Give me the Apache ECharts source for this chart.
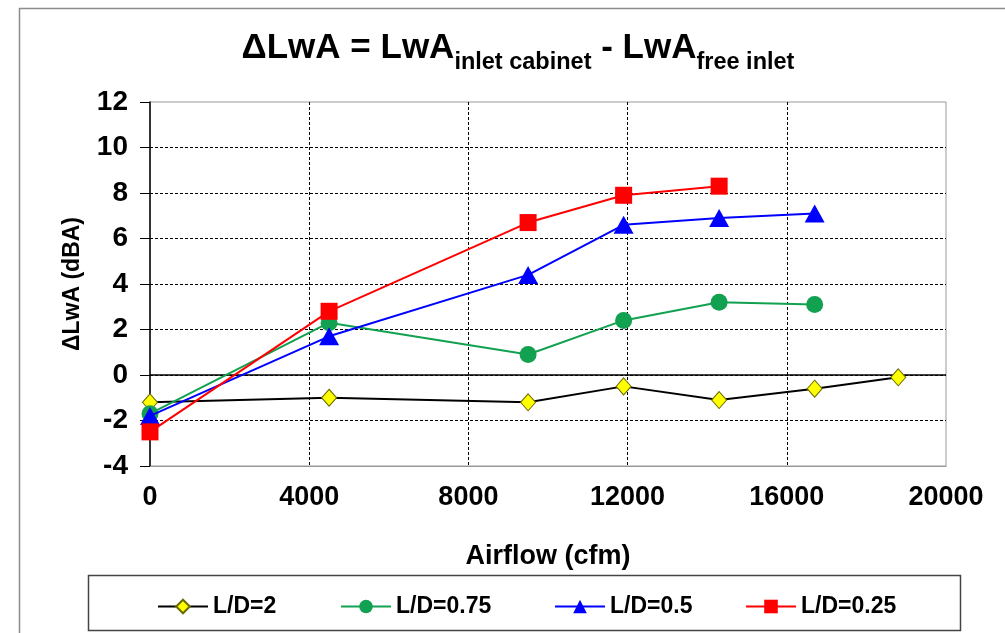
<!DOCTYPE html>
<html><head><meta charset="utf-8">
<script src="https://cdn.jsdelivr.net/npm/echarts@6/dist/echarts.min.js"></script>
<style>html,body{margin:0;padding:0;background:#fff}#c{width:1005px;height:633px}</style>
</head><body><div id="c"></div>
<script>
// Data
const xTicks = [0, 4000, 8000, 12000, 16000, 20000];
const yTicks = [-4, -2, 0, 2, 4, 6, 8, 10, 12];
const seriesNames = ['L/D=2', 'L/D=0.75', 'L/D=0.5', 'L/D=0.25'];
const xLD2 = [0, 4500, 9500, 11900, 14300, 16700, 18800];
const yLD2 = [-1.2, -1.0, -1.2, -0.5, -1.1, -0.6, -0.1];
const xLD075 = [0, 4500, 9500, 11900, 14300, 16700];
const yLD075 = [-1.7, 2.3, 0.9, 2.4, 3.2, 3.1];
const xLD05 = [0, 4500, 9500, 11900, 14300, 16700];
const yLD05 = [-1.8, 1.7, 4.4, 6.6, 6.9, 7.1];
const xLD025 = [0, 4500, 9500, 11900, 14300];
const yLD025 = [-2.5, 2.8, 6.7, 7.9, 8.3];

const FF = "'Liberation Sans', Arial, sans-serif";
const pairs = (xs, ys) => xs.map((x, i) => [x, ys[i]]);

const chart = echarts.init(document.getElementById('c'), null, {renderer: 'canvas'});

const styles = [
  {color: '#000000', symbol: 'diamond', size: [15, 17], fill: '#ffff00', border: '#6b6b00', bw: 1},
  {color: '#12a150', symbol: 'circle', size: 17, fill: '#12a150', border: '#12a150', bw: 0},
  {color: '#0000ff', symbol: 'triangle', size: [20, 18], fill: '#0000ff', border: '#0000ff', bw: 0},
  {color: '#ff0000', symbol: 'rect', size: 17, fill: '#ff0000', border: '#ff0000', bw: 0}
];
const datasets = [pairs(xLD2, yLD2), pairs(xLD075, yLD075), pairs(xLD05, yLD05), pairs(xLD025, yLD025)];

const series = datasets.map((d, i) => {
  const s = styles[i];
  const o = {
    name: seriesNames[i],
    type: 'line',
    data: d,
    symbol: s.symbol,
    symbolSize: s.size,
    showAllSymbol: true,
    lineStyle: {color: s.color, width: 2},
    itemStyle: {color: s.fill, borderColor: s.border, borderWidth: s.bw},
    emphasis: {disabled: true},
    z: 3 + i
  };
  if (i === 0) {
    o.markLine = {
      silent: true,
      symbol: 'none',
      label: {show: false},
      lineStyle: {color: '#000', type: 'solid', width: 1.5},
      data: [{yAxis: 0}],
      z: 2
    };
  }
  return o;
});

const legendX = [152, 335, 549, 740];
const legends = seriesNames.map((n, i) => ({
  data: [n],
  left: legendX[i],
  top: 590,
  itemWidth: 50,
  itemHeight: 17,
  itemGap: 5,
  selectedMode: false,
  textStyle: {fontFamily: FF, fontWeight: 'bold', fontSize: 23, color: '#000'}
}));

chart.setOption({
  animation: false,
  backgroundColor: '#fff',
  title: {
    text: '{m|ΔLwA = LwA}{s|inlet cabinet}{m| - LwA}{s|free inlet}',
    left: 518,
    top: 31,
    padding: 0,
    textAlign: 'center',
    textStyle: {
      rich: {
        m: {fontFamily: FF, fontWeight: 'bold', fontSize: 35, lineHeight: 40, verticalAlign: 'top', color: '#000'},
        s: {fontFamily: FF, fontWeight: 'bold', fontSize: 23.5, lineHeight: 23, padding: [20, 0, 0, 0], verticalAlign: 'top', color: '#000'}
      }
    }
  },
  legend: legends,
  grid: {left: 150, right: 59, top: 102, bottom: 167, show: true, borderColor: '#999', borderWidth: 1},
  xAxis: {
    type: 'value',
    min: xTicks[0], max: xTicks[xTicks.length - 1], interval: 4000,
    name: 'Airflow (cfm)',
    nameLocation: 'middle',
    nameGap: 77,
    nameTextStyle: {fontFamily: FF, fontWeight: 'bold', fontSize: 27, color: '#000'},
    axisLine: {show: true, onZero: false, lineStyle: {color: '#999', width: 1}},
    axisTick: {show: false},
    axisLabel: {fontFamily: FF, fontWeight: 'bold', fontSize: 27, color: '#000', margin: 18, formatter: v => String(v)},
    splitLine: {show: true, showMinLine: false, showMaxLine: false, lineStyle: {color: '#000', type: [3, 2], width: 1}}
  },
  yAxis: {
    type: 'value',
    min: yTicks[0], max: yTicks[yTicks.length - 1], interval: 2,
    name: 'ΔLwA (dBA)',
    nameLocation: 'middle',
    nameRotate: 90,
    nameGap: 66,
    nameTextStyle: {fontFamily: FF, fontWeight: 'bold', fontSize: 23, color: '#000'},
    axisLine: {show: true, onZero: false, lineStyle: {color: '#000', width: 1.5}},
    axisTick: {show: true, inside: false, length: 10, lineStyle: {color: '#000', width: 1}},
    axisLabel: {fontFamily: FF, fontWeight: 'bold', fontSize: 28, color: '#000', margin: 22, formatter: v => String(v)},
    splitLine: {show: true, showMinLine: false, showMaxLine: false, lineStyle: {color: '#000', type: [3, 2], width: 1}}
  },
  graphic: [
    {type: 'rect', silent: true, z: -10, shape: {x: 19.5, y: 8.5, width: 1000, height: 700}, style: {fill: 'none', stroke: '#8c8c8c', lineWidth: 1.5}},
    {type: 'rect', silent: true, z: -5, shape: {x: 88.5, y: 575.5, width: 872, height: 55}, style: {fill: '#fff', stroke: '#444', lineWidth: 1.5}}
  ],
  series: series
});
</script></body></html>
